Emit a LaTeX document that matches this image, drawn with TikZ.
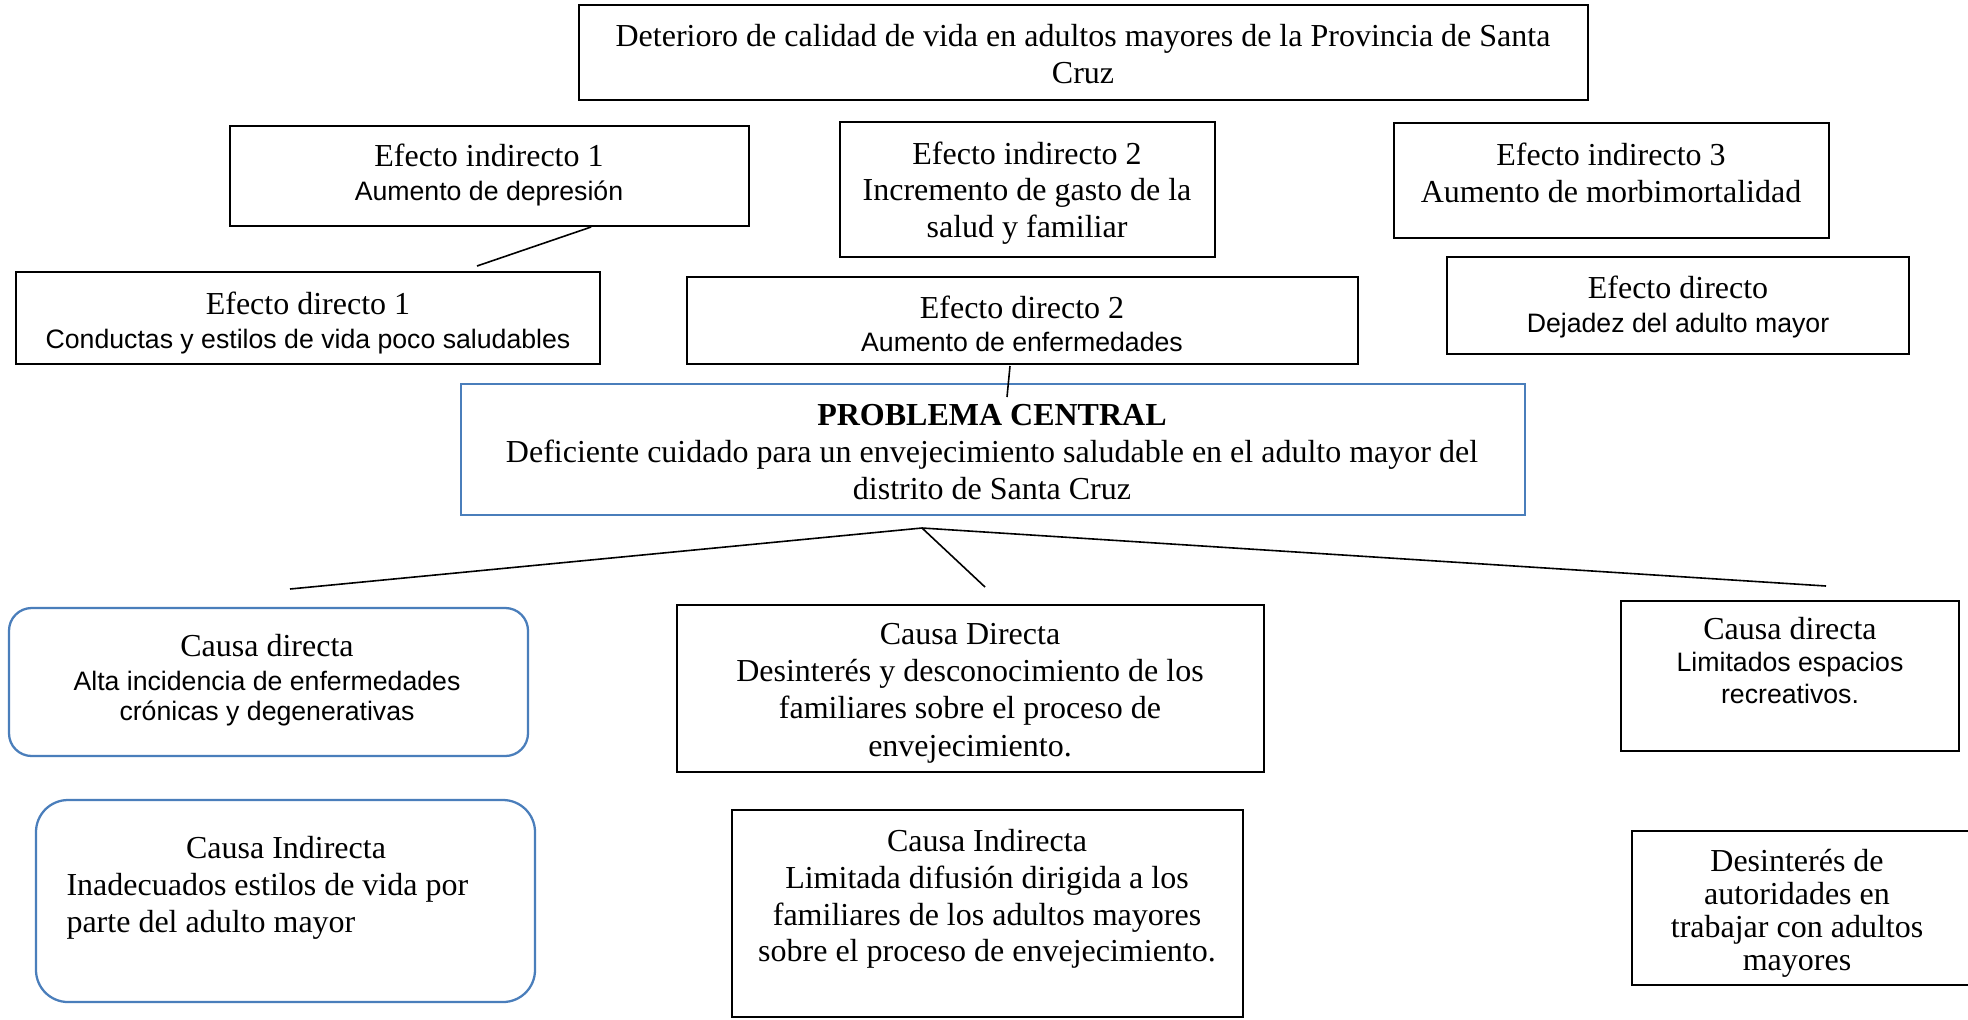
\documentclass[tikz,border=0pt]{standalone}
\usepackage{fontspec}
\setmainfont{Liberation Serif}
\setsansfont{Liberation Sans}
\usetikzlibrary{fit,calc}
\definecolor{boxblue}{RGB}{74,126,187}
\newcommand{\sanstxt}[1]{{\sffamily\fontsize{10}{11.5}\selectfont #1}}
\tikzset{
  box/.style={draw=black, line width=0.75pt, inner sep=0pt},
  bluebox/.style={draw=boxblue, line width=0.85pt, inner sep=0pt},
  txt/.style={align=center, inner sep=0pt, font=\fontsize{12}{13.8}\selectfont},
  conn/.style={draw=black, line width=0.6pt},
}
\begin{document}
\begin{tikzpicture}[x=0.375pt,y=-0.375pt]
\fill[white] (0,0) rectangle (1968,1019);
\useasboundingbox (0,0) rectangle (1968,1019);

% boxes
\node[box, fit={(579,5) (1588,100)}] (top) {};
\node[box, fit={(230,126) (749,226)}] (ei1) {};
\node[box, fit={(840,122) (1215,257)}] (ei2) {};
\node[box, fit={(1394,123) (1829,238)}] (ei3) {};
\node[box, fit={(16,272) (600,364)}] (ed1) {};
\node[box, fit={(687,277) (1358,364)}] (ed2) {};
\node[box, fit={(1447,257) (1909,354)}] (ed3) {};
\node[bluebox, fit={(461,384) (1525,515)}] (pc) {};
\node[bluebox, rounded corners=8.5pt, fit={(9,608) (528,756)}] (cd1) {};
\node[box, fit={(677,605) (1264,772)}] (cd2) {};
\node[box, fit={(1621,601) (1959,751)}] (cd3) {};
\node[bluebox, rounded corners=12pt, fit={(36,800) (535,1002)}] (ci1) {};
\node[box, fit={(732,810) (1243,1017)}] (ci2) {};
\node[box, fit={(1632,831) (1990,985)}] (ci3) {};

% texts
\node[txt] (t-top) at (1083,54) {Deterioro de calidad de vida en adultos mayores de la Provincia de Santa\\Cruz};
\node[txt] (t-ei1) at (489,175) {Efecto indirecto 1\\[-1.4pt]\sanstxt{Aumento de depresión}};
\node[txt] (t-ei2) at (1027,193) {Efecto indirecto 2\\Incremento de gasto de la\\salud y familiar};
\node[txt] (t-ei3) at (1611,172.5) {Efecto indirecto 3\\Aumento de morbimortalidad};
\node[txt] (t-ed1) at (308,323) {Efecto directo 1\\[-1.4pt]\sanstxt{Conductas y estilos de vida poco saludables}};
\node[txt] (t-ed2) at (1022,323.5) {Efecto directo 2\\[-1.4pt]\sanstxt{Aumento de enfermedades}};
\node[txt] (t-ed3) at (1678,307) {Efecto directo\\[-1.4pt]\sanstxt{Dejadez del adulto mayor}};
\node[txt] (t-pc) at (992,452) {\textbf{PROBLEMA CENTRAL}\\Deficiente cuidado para un envejecimiento saludable en el adulto mayor del\\distrito de Santa Cruz};
\node[txt] (t-cd1) at (267,680.5) {Causa directa\\[-1.4pt]\sanstxt{Alta incidencia de enfermedades}\\[-2.3pt]\sanstxt{crónicas y degenerativas}};
\node[txt] (t-cd2) at (970,693) {Causa Directa\\[0.2pt]Desinterés y desconocimiento de los\\[0.2pt]familiares sobre el proceso de\\[0.2pt]envejecimiento.};
\node[txt] (t-cd3) at (1790,661) {Causa directa\\[-1.8pt]\sanstxt{Limitados espacios}\\[-1.8pt]\sanstxt{recreativos.}};
\node[txt, align=left, anchor=west] (t-ci1) at (66,888) {\makebox[164.6pt]{Causa Indirecta}\\Inadecuados estilos de vida por\\parte del adulto mayor};
\node[txt] (t-ci2) at (987,899) {Causa Indirecta\\Limitada difusión dirigida a los\\familiares de los adultos mayores\\sobre el proceso de envejecimiento.};
\node[txt] (t-ci3) at (1797,913) {Desinterés de\\[-1.4pt]autoridades en\\[-1.4pt]trabajar con adultos\\[-1.4pt]mayores};

% connectors
\coordinate (l1a) at ($(ei1.south west)!0.695!(ei1.south east)$);
\coordinate (l1b) at (477,266);
\draw[conn] (l1a) -- (l1b);
\coordinate (l2a) at (1010,366);
\coordinate (l2b) at (1007,397);
\draw[conn] (l2a) -- (l2b);
\coordinate (apex) at (922,528);
\coordinate (cdl) at (290,589);
\coordinate (cdm) at (985,587);
\coordinate (cdr) at (1826,586);
\draw[conn] (apex) -- (cdl);
\draw[conn] (apex) -- (cdm);
\draw[conn] (apex) -- (cdr);
\end{tikzpicture}
\end{document}
